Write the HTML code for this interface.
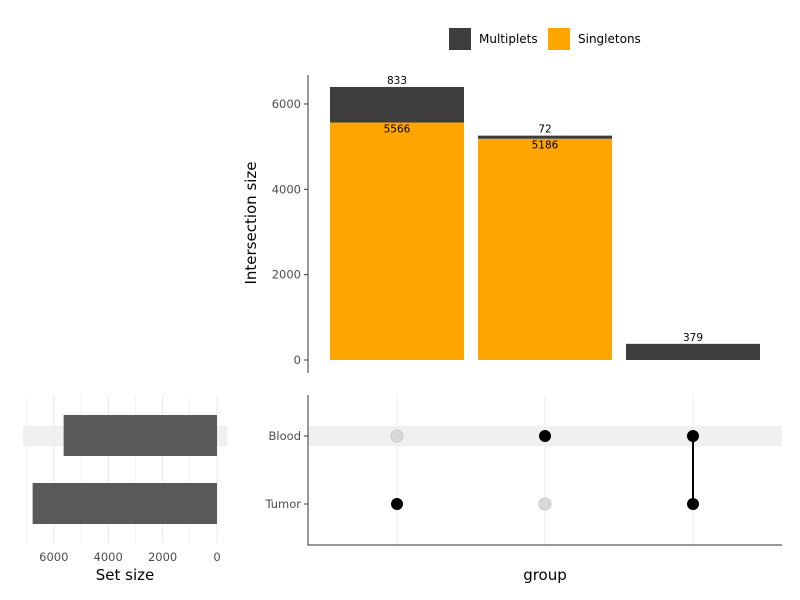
<!DOCTYPE html>
<html><head><meta charset="utf-8"><style>body{margin:0;background:#fff}svg{display:block;font-family:"DejaVu Sans","Liberation Sans",sans-serif}</style></head>
<body>
<svg id="c" width="800" height="600"></svg>
<script>
const intersections=["Tumor only","Blood only","Blood & Tumor"];
const singletons=[5566,5186,0];
const multiplets=[833,72,379];
const yTicks=[0,2000,4000,6000];
const sets=["Blood","Tumor"];
const setSizes=[5638,6778];
const setTicks=[0,2000,4000,6000];
const membership=[[0,1],[1,0],[1,1]]; // [Blood,Tumor] per intersection
const NS="http://www.w3.org/2000/svg";
const svg=document.getElementById('c');
function el(t,a,p){const e=document.createElementNS(NS,t);for(const k in a)e.setAttribute(k,a[k]);(p||svg).appendChild(e);return e;}
function txt(s,a){const e=el('text',a);e.textContent=s;return e;}
const y=v=>360-v*0.04267;
const cx=i=>397+i*148;
const bw=134;
for(const t of yTicks){
 const l=el('line',{x1:304,x2:308,y1:y(t),y2:y(t),stroke:'#333'});
 
 const tt=txt(t,{x:301,y:y(t)+4,'text-anchor':'end','font-size':11.5,fill:'#4d4d4d'});
 
}
const ya=el('line',{x1:308,x2:308,y1:75,y2:373,stroke:'#333','stroke-width':1});

const yt=txt('Intersection size',{x:0,y:0,transform:'translate(256,223) rotate(-90)','text-anchor':'middle','font-size':15,fill:'#000'});

intersections.forEach((n,i)=>{
 const s=singletons[i],m=multiplets[i];
 if(s>0){const r=el('rect',{x:cx(i)-bw/2,y:y(s),width:bw,height:y(0)-y(s),fill:'#FFA500'});
  
  const l=txt(s,{x:cx(i),y:y(s)+10,'text-anchor':'middle','font-size':10.5,fill:'#000'});
  }
 const r2=el('rect',{x:cx(i)-bw/2,y:y(s+m),width:bw,height:y(s)-y(s+m),fill:'#3d3d3d'});
 
 const l2=txt(m,{x:cx(i),y:y(s+m)-3,'text-anchor':'middle','font-size':10.5,fill:'#000'});
 
});
const lg=el('g',{});
[['Multiplets','#3d3d3d',449],['Singletons','#FFA500',548]].forEach(([n,c,x])=>{
 const r=el('rect',{x:x,y:28,width:22,height:22,fill:c},lg);
 const t=el('text',{x:x+30,y:43,'font-size':12,fill:'#000'},lg);t.textContent=n;
});
const ry=j=>436+j*68;
const band=el('rect',{x:308,y:426,width:474,height:20,fill:'#f0f0f0'});
intersections.forEach((n,i)=>{const g=el('line',{x1:cx(i),x2:cx(i),y1:395,y2:545,stroke:'#ebebeb'});});
sets.forEach((s,j)=>{
 const tk=el('line',{x1:304,x2:308,y1:ry(j),y2:ry(j),stroke:'#333'});
 const t=txt(s,{x:301,y:ry(j)+4,'text-anchor':'end','font-size':11.5,fill:'#4d4d4d'});
});
const mx=el('path',{d:'M308,395V545H782',fill:'none',stroke:'#333'});
membership.forEach((mm,i)=>{
 const on=mm.map((v,j)=>v?ry(j):null).filter(v=>v!==null);
 if(on.length>1){const l=el('line',{x1:cx(i),x2:cx(i),y1:Math.min(...on),y2:Math.max(...on),stroke:'#000','stroke-width':2});}
 mm.forEach((v,j)=>{const c=el('circle',{cx:cx(i),cy:ry(j),r:6,fill:v?'#000':'#d9d9d9',stroke:v?'none':'#c8c8c8'});});
});
const gx=txt('group',{x:545,y:580,'text-anchor':'middle','font-size':15,fill:'#000'});
const sx=v=>217-v*0.0272;
const b2=el('rect',{x:23,y:426,width:204,height:20,fill:'#f0f0f0'});
for(let k=0;k<=7;k++){const g=el('line',{x1:sx(k*1000),x2:sx(k*1000),y1:395,y2:543,stroke:'#ebebeb','stroke-width':k%2?0.6:1.1});}
setSizes.forEach((v,j)=>{const r=el('rect',{x:sx(v),y:ry(j)-21,width:sx(0)-sx(v),height:41,fill:'#595959'});});
setTicks.forEach(t=>{const l=txt(t,{x:sx(t),y:561,'text-anchor':'middle','font-size':11.5,fill:'#4d4d4d'});});
const st=txt('Set size',{x:125,y:580,'text-anchor':'middle','font-size':15,fill:'#000'});
</script>
</body></html>
